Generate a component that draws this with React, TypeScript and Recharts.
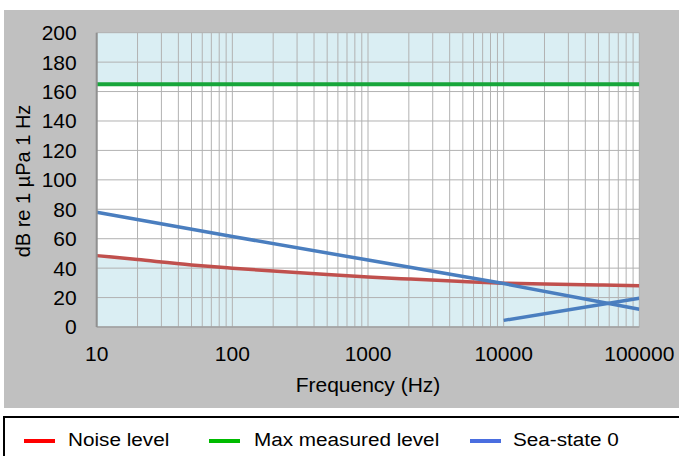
import {
  ComposedChart,
  Line,
  Area,
  XAxis,
  YAxis,
  CartesianGrid,
} from 'recharts';

// frequency rows (Hz)
const FREQ = [10, 20, 50, 100, 200, 500, 1000, 2000, 5000, 10000, 20000, 50000, 100000];
// noise level curve
const NOISE = [48.5, 45.8, 42.2, 40, 38, 35.6, 34, 32.6, 30.9, 29.8, 29.2, 28.6, 28];
// max measured level, flat
const MAX_LEVEL = [165, null, null, null, null, null, null, null, null, null, null, null, 165];
// sea-state 0, decades only
const SEA_STATE = [78, null, null, 61.5, null, null, 45.5, null, null, 29.5, null, null, 12];
// second sea-state segment (high-frequency rise)
const SEA_HIGH = [null, null, null, null, null, null, null, null, null, 4.5, null, null, 19.5];
const Y_MAX = 200;

const X_TICKS = [
  10, 20, 30, 40, 50, 60, 70, 80, 90,
  100, 200, 300, 400, 500, 600, 700, 800, 900,
  1000, 2000, 3000, 4000, 5000, 6000, 7000, 8000, 9000,
  10000, 20000, 30000, 40000, 50000, 60000, 70000, 80000, 90000,
  100000,
];
const X_LABELS = [10, 100, 1000, 10000, 100000];
const Y_TICKS = [0, 20, 40, 60, 80, 100, 120, 140, 160, 180, 200];

const LEGEND = [
  { name: 'Noise level', color: '#ff0000', swatch: 24, text: 68 },
  { name: 'Max measured level', color: '#00bb00', swatch: 209, text: 254 },
  { name: 'Sea-state 0', color: '#4a6ee0', swatch: 470, text: 513 },
];

const NOISE_COLOR = '#c0504d';
const MAX_COLOR = '#17a63a';
const SEA_COLOR = '#4a7ebf';
const FILL = '#daeef3';
const GRID = '#b2b2b2';

const data = FREQ.map((f, i) => ({
  f,
  noise: NOISE[i],
  low: [0, NOISE[i]],
  top: MAX_LEVEL[i] == null ? null : [MAX_LEVEL[i], Y_MAX],
  max: MAX_LEVEL[i],
  sea: SEA_STATE[i],
  seaHigh: SEA_HIGH[i],
}));

const font = '"Liberation Sans", Arial, sans-serif';

export default function App() {
  return (
    <div style={{ position: 'absolute', left: 0, top: 0, width: 679, height: 456, background: '#fff', overflow: 'hidden', fontFamily: font }}>
      <div style={{ position: 'absolute', left: 4, top: 10, width: 675, height: 398, background: '#c0c0c0' }} />
      {/* plot background */}
      <div style={{ position: 'absolute', left: 96.7, top: 32.7, width: 542.6, height: 294.3, background: '#fff' }} />

      <div style={{ position: 'absolute', left: 0, top: 0 }}>
        <ComposedChart width={679} height={408} data={data} margin={{ top: 32.7, right: 39.7, left: 36.7, bottom: 21 }}>
          <Area
            type="linear"
            dataKey="top"
            fill={FILL}
            fillOpacity={1}
            stroke="none"
            connectNulls
            isAnimationActive={false}
            activeDot={false}
          />
          <Area
            type="monotone"
            dataKey="low"
            fill={FILL}
            fillOpacity={1}
            stroke="none"
            isAnimationActive={false}
            activeDot={false}
          />
          {/* grid sits above the fills, below the lines */}
          <CartesianGrid stroke={GRID} strokeWidth={1} zIndex={150} />
          <XAxis
            dataKey="f"
            type="number"
            scale="log"
            domain={[10, 100000]}
            ticks={X_TICKS}
            interval={0}
            allowDataOverflow
            tickFormatter={(v: number) => (X_LABELS.includes(v) ? String(v) : '')}
            tick={{ fill: '#000', fontSize: 21, fontFamily: font }}
            tickSize={0}
            tickMargin={19}
            height={60}
            axisLine={{ stroke: '#a0a0a0', strokeWidth: 1.5 }}
            label={{ value: 'Frequency (Hz)', position: 'insideBottom', offset: -5, fill: '#000', fontSize: 21, fontFamily: font }}
          />
          <YAxis
            type="number"
            domain={[0, 200]}
            ticks={Y_TICKS}
            interval={0}
            allowDataOverflow
            tick={{ fill: '#000', fontSize: 21, fontFamily: font }}
            tickSize={0}
            tickMargin={20}
            width={60}
            axisLine={{ stroke: '#909090', strokeWidth: 2 }}
          />
          <Line type="monotone" dataKey="noise" stroke={NOISE_COLOR} strokeWidth={3.5} dot={false} isAnimationActive={false} />
          <Line type="linear" dataKey="max" stroke={MAX_COLOR} strokeWidth={4} dot={false} connectNulls isAnimationActive={false} />
          <Line type="linear" dataKey="sea" stroke={SEA_COLOR} strokeWidth={3.5} dot={false} connectNulls isAnimationActive={false} />
          <Line type="linear" dataKey="seaHigh" stroke={SEA_COLOR} strokeWidth={3.5} dot={false} connectNulls isAnimationActive={false} />
        </ComposedChart>
      </div>

      {/* y-axis title */}
      <div
        style={{
          position: 'absolute',
          left: 22.5,
          top: 181,
          fontSize: 20,
          lineHeight: '22px',
          color: '#000',
          whiteSpace: 'nowrap',
          transform: 'translate(-50%, -50%) rotate(-90deg)',
        }}
      >
        dB re 1 µPa 1 Hz
      </div>

      {/* legend box */}
      <div style={{ position: 'absolute', left: 3, top: 416, width: 700, height: 60, border: '2px solid #000', background: '#fff', boxSizing: 'border-box' }} />
      {LEGEND.map((item) => (
        <div key={item.name}>
          <span style={{ position: 'absolute', left: item.swatch, top: 439, width: 31, height: 4, background: item.color }} />
          <span
            style={{
              position: 'absolute',
              left: item.text,
              top: 429,
              fontSize: 18,
              lineHeight: '22px',
              color: '#000',
              whiteSpace: 'nowrap',
              transform: 'scaleX(1.15)',
              transformOrigin: 'left center',
            }}
          >
            {item.name}
          </span>
        </div>
      ))}
    </div>
  );
}
